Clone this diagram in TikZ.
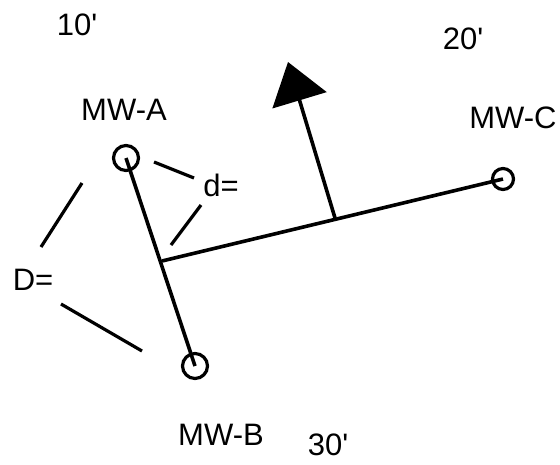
\documentclass[tikz,border=0pt]{standalone}
\usepackage{fontspec}
\setmainfont{Liberation Sans}
\usetikzlibrary{arrows.meta}

\begin{document}
\begin{tikzpicture}[x=1pt, y=-1pt, line width=3.6pt,
    well/.style={draw, circle, line width=3.2pt, inner sep=0pt, minimum size=25pt},
    lbl/.style={font=\fontsize{31}{31}\selectfont, inner sep=0pt},
    dim/.style={line width=3.2pt}]
  \useasboundingbox (0,0) rectangle (560,464);
  % --- wells ---
  \node[well] (mwA) at (126,158) {};
  \node[well] (mwB) at (195,366) {};
  \node[well, minimum size=21pt] (mwC) at (503,179) {};
  \node[lbl] (labA) at (124,110) {MW-A};
  \node[lbl] (labB) at (221,435) {MW-B};
  \node[lbl] (labC) at (513,118) {MW-C};
  % --- elevations ---
  \node[lbl] (e10) at (77,25) {10\textquotesingle};
  \node[lbl] (e20) at (463,39) {20\textquotesingle};
  \node[lbl] (e30) at (328,445) {30\textquotesingle};
  % --- gradient ---
  \coordinate (junc) at (162,261);
  \coordinate (foot) at (335,218);
  \coordinate (tip) at (288,62);
  \draw (mwA.center) -- (mwB.center);
  \draw (junc) -- (mwC.center);
  \draw[-{Triangle[length=40pt,width=56pt]}] (foot) -- (tip);
  % --- distances ---
  \node[lbl] (dsm) at (221,185) {d=};
  \node[lbl] (dbig) at (33,280) {D=};
  \draw[dim] (154,162) -- (194,178);
  \draw[dim] (201,205) -- (171,245);
  \draw[dim] (82,183) -- (41,247);
  \draw[dim] (61,304) -- (142,351);
\end{tikzpicture}
\end{document}
